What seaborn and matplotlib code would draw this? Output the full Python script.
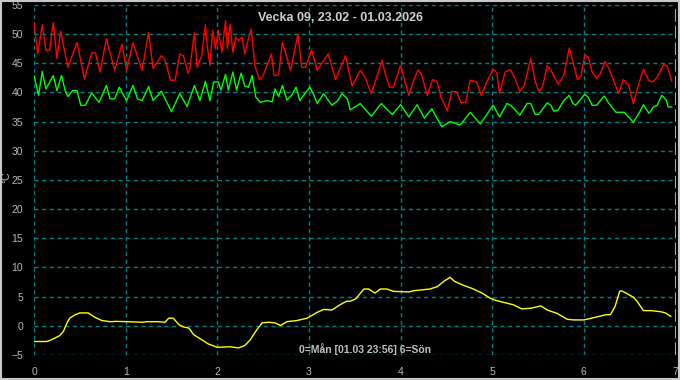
import matplotlib
matplotlib.use("Agg")
import matplotlib.pyplot as plt
from matplotlib.patches import Rectangle
from matplotlib.ticker import MultipleLocator
import pandas as pd
import seaborn as sns

# Day of week (0=Mon ... 7) and temperature in degC
red_day = [0.00, 0.04, 0.09, 0.13, 0.17, 0.21, 0.25, 0.29, 0.37, 0.47, 0.55, 0.63, 0.67, 0.72,
           0.79, 0.88, 0.96, 1.01, 1.08, 1.18, 1.25, 1.30, 1.39, 1.43, 1.49, 1.54, 1.59, 1.63,
           1.68, 1.70, 1.75, 1.78, 1.83, 1.87, 1.89, 1.92, 1.95, 1.98, 2.01, 2.05, 2.09, 2.11,
           2.14, 2.17, 2.20, 2.23, 2.27, 2.30, 2.33, 2.37, 2.41, 2.46, 2.50, 2.55, 2.59, 2.62,
           2.67, 2.71, 2.80, 2.88, 2.92, 2.96, 3.03, 3.09, 3.21, 3.29, 3.40, 3.47, 3.56, 3.61,
           3.68, 3.72, 3.80, 3.83, 3.88, 3.92, 4.00, 4.05, 4.09, 4.14, 4.19, 4.23, 4.29, 4.35,
           4.40, 4.44, 4.51, 4.56, 4.61, 4.66, 4.71, 4.76, 4.83, 4.88, 4.94, 5.01, 5.05, 5.08,
           5.14, 5.20, 5.25, 5.30, 5.35, 5.42, 5.47, 5.51, 5.55, 5.60, 5.64, 5.72, 5.78, 5.84,
           5.88, 5.93, 5.97, 6.01, 6.05, 6.09, 6.14, 6.18, 6.23, 6.27, 6.38, 6.43, 6.49, 6.54,
           6.60, 6.65, 6.71, 6.75, 6.80, 6.87, 6.91, 6.96]
red_temp = [52.0, 46.6, 51.6, 47.2, 47.2, 52.0, 45.8, 50.5, 44.3, 48.6, 42.3, 46.8, 46.8, 43.5,
            49.2, 43.8, 48.3, 43.8, 48.5, 43.8, 50.3, 44.1, 46.3, 45.5, 42.1, 42.1, 46.6, 46.3,
            43.3, 44.0, 50.3, 44.3, 46.3, 51.6, 48.0, 44.6, 50.6, 47.5, 50.6, 46.9, 52.3, 47.5,
            51.7, 46.9, 49.5, 48.9, 49.5, 46.6, 48.6, 50.9, 44.6, 42.2, 42.9, 44.9, 46.6, 42.9,
            43.0, 48.6, 43.8, 50.0, 44.3, 44.3, 47.3, 43.8, 46.6, 42.2, 46.3, 41.1, 43.8, 42.7,
            39.8, 41.7, 45.5, 43.3, 40.9, 40.9, 44.6, 41.8, 39.5, 42.0, 43.9, 43.0, 39.5, 42.2,
            41.8, 39.2, 36.9, 40.2, 40.1, 38.2, 38.3, 42.1, 41.8, 39.5, 41.8, 44.0, 43.4, 39.8,
            43.5, 43.9, 42.3, 40.2, 41.2, 45.8, 41.8, 40.2, 41.0, 44.6, 43.8, 41.4, 42.9, 47.6,
            45.2, 42.2, 42.9, 46.4, 46.0, 43.5, 42.4, 43.2, 45.3, 44.2, 39.8, 42.2, 41.2, 38.1,
            41.5, 44.0, 42.0, 41.8, 42.6, 44.8, 44.5, 41.9]

green_day = [0.00, 0.05, 0.09, 0.13, 0.21, 0.25, 0.30, 0.34, 0.37, 0.42, 0.47, 0.51, 0.56, 0.63,
             0.71, 0.79, 0.83, 0.88, 0.93, 1.01, 1.08, 1.13, 1.18, 1.25, 1.30, 1.39, 1.50, 1.59,
             1.67, 1.75, 1.81, 1.87, 1.92, 1.96, 2.01, 2.04, 2.09, 2.12, 2.17, 2.21, 2.26, 2.30,
             2.34, 2.38, 2.42, 2.47, 2.54, 2.60, 2.63, 2.67, 2.71, 2.76, 2.81, 2.86, 2.90, 2.95,
             3.01, 3.05, 3.09, 3.16, 3.25, 3.31, 3.36, 3.42, 3.45, 3.56, 3.68, 3.79, 3.91, 4.00,
             4.09, 4.18, 4.26, 4.34, 4.45, 4.54, 4.65, 4.76, 4.87, 5.01, 5.08, 5.16, 5.20, 5.25,
             5.30, 5.38, 5.42, 5.47, 5.51, 5.60, 5.64, 5.67, 5.72, 5.78, 5.84, 5.88, 5.91, 6.01,
             6.05, 6.09, 6.14, 6.22, 6.27, 6.35, 6.44, 6.54, 6.60, 6.65, 6.71, 6.76, 6.80, 6.85,
             6.90, 6.92, 6.96]
green_temp = [42.9, 39.5, 43.6, 40.6, 42.9, 40.3, 42.9, 40.3, 39.3, 40.3, 40.3, 37.8, 37.8, 39.9,
              38.3, 41.2, 38.9, 38.9, 40.9, 38.6, 41.2, 38.9, 38.6, 41.0, 38.6, 40.2, 36.7, 39.8,
              37.6, 41.2, 38.6, 41.9, 38.6, 41.8, 41.8, 40.4, 43.1, 40.4, 43.5, 40.4, 43.3, 41.1,
              40.9, 42.9, 39.2, 38.3, 38.6, 38.4, 40.6, 39.3, 41.2, 38.7, 39.5, 40.9, 38.6, 39.7,
              40.9, 39.7, 38.1, 39.8, 37.8, 38.5, 39.8, 38.9, 37.0, 38.1, 35.9, 38.1, 36.2, 37.9,
              35.8, 37.9, 35.6, 37.2, 34.1, 35.0, 34.4, 36.6, 34.6, 37.8, 35.8, 38.1, 37.8, 37.0,
              36.1, 38.1, 38.1, 36.2, 36.3, 38.2, 37.8, 36.8, 37.0, 38.6, 39.5, 38.1, 37.8, 39.7,
              39.1, 37.8, 37.8, 39.4, 38.2, 36.6, 36.6, 34.9, 36.4, 37.9, 36.4, 37.5, 37.8, 39.5,
              38.7, 37.5, 37.5]

yellow_day = [0.00, 0.14, 0.19, 0.28, 0.32, 0.36, 0.39, 0.45, 0.50, 0.59, 0.67, 0.74, 0.83, 0.90,
              1.01, 1.19, 1.23, 1.34, 1.43, 1.47, 1.52, 1.58, 1.63, 1.69, 1.74, 1.81, 1.90, 2.00,
              2.14, 2.23, 2.30, 2.36, 2.43, 2.49, 2.56, 2.63, 2.69, 2.76, 2.87, 2.98, 3.09, 3.16,
              3.25, 3.34, 3.41, 3.45, 3.51, 3.60, 3.65, 3.72, 3.78, 3.85, 3.92, 4.09, 4.14, 4.32,
              4.40, 4.47, 4.54, 4.59, 4.69, 4.78, 4.89, 4.98, 5.05, 5.23, 5.32, 5.42, 5.53, 5.60,
              5.71, 5.82, 5.89, 6.00, 6.14, 6.24, 6.29, 6.34, 6.39, 6.41, 6.46, 6.54, 6.58, 6.65,
              6.73, 6.84, 6.89, 6.95]
yellow_temp = [-2.7, -2.7, -2.4, -1.7, -1.0, 0.5, 1.3, 1.9, 2.2, 2.2, 1.4, 0.9, 0.7, 0.75,
               0.7, 0.6, 0.7, 0.7, 0.6, 1.3, 1.3, 0.2, -0.2, -0.4, -1.5, -2.2, -3.1, -3.7,
               -3.6, -3.8, -3.4, -2.4, -0.7, 0.5, 0.6, 0.5, 0.05, 0.7, 0.9, 1.3, 2.3, 2.8,
               2.7, 3.6, 4.2, 4.2, 4.6, 6.3, 6.3, 5.6, 6.3, 6.3, 5.9, 5.8, 6.0, 6.3,
               6.7, 7.6, 8.3, 7.6, 6.9, 6.4, 5.6, 4.7, 4.3, 3.6, 2.9, 3.0, 3.4, 2.7,
               2.1, 1.1, 1.0, 1.0, 1.5, 1.9, 1.9, 3.3, 5.9, 6.0, 5.6, 4.9, 4.2, 2.6,
               2.6, 2.4, 2.2, 1.6]

title = "Vecka 09, 23.02 - 01.03.2026"
xlabel = "0=Mån [01.03 23:56] 6=Sön"

sns.set_style("dark", {"axes.facecolor": "black", "figure.facecolor": "black"})
plt.rcParams["font.family"] = ["Liberation Sans", "DejaVu Sans"]

fig = plt.figure(figsize=(6.8, 3.8), dpi=100)
ax = fig.add_axes([0.05, 0.066, 0.9434, 0.921])
ax.set_facecolor("black")

series = [(red_day, red_temp, "#ff0000"),
          (green_day, green_temp, "#00ff00"),
          (yellow_day, yellow_temp, "#ffff00")]
for d, t, c in series:
    df = pd.DataFrame({"day": d, "temp": t})
    sns.lineplot(data=df, x="day", y="temp", ax=ax, color=c, linewidth=1.0,
                 sort=False, estimator=None, zorder=3)

ax.set_xlim(0, 7)
ax.set_ylim(-5, 55)
ax.xaxis.set_major_locator(MultipleLocator(1))
ax.xaxis.set_minor_locator(MultipleLocator(1 / 12))
ax.yaxis.set_major_locator(MultipleLocator(5))
ax.yaxis.set_minor_locator(MultipleLocator(1))

ax.grid(True, which="major", color="#008080", linestyle=(0, (3, 2.5)), linewidth=1.0)
ax.set_axisbelow(True)
ax.axvline(7, color="#30e0e0", linestyle=(0, (6, 2)), linewidth=1.5, zorder=2)

for s in ax.spines.values():
    s.set_visible(False)

ax.tick_params(axis="both", which="major", colors="white", labelcolor="#b8b8b8",
               labelsize=7.5, length=7, width=1, direction="out")
ax.tick_params(axis="both", which="minor", colors="white", length=3.5, width=1, direction="out")
ax.tick_params(axis="y", which="major", pad=1)
ax.tick_params(axis="x", which="major", pad=2)

ax.set_xlabel("")
ax.set_ylabel("")
fig.text(0.009, 0.535, "°C", rotation=90, color="#b8b8b8", fontsize=7.5,
         ha="center", va="center")
fig.text(0.5, 0.953, title, color="#d0d0d0", fontsize=9, fontweight="bold",
         ha="center", va="center")
fig.text(0.537, 0.082, xlabel, color="#c0c0c0", fontsize=7.5,
         fontweight="bold", ha="center", va="center")

fig.patches.append(Rectangle((0.001, 0.002), 0.997, 0.995, transform=fig.transFigure,
                             fill=False, edgecolor="#c8c8c8", linewidth=1.5))

fig.savefig("out.png", dpi=100, facecolor="black")
